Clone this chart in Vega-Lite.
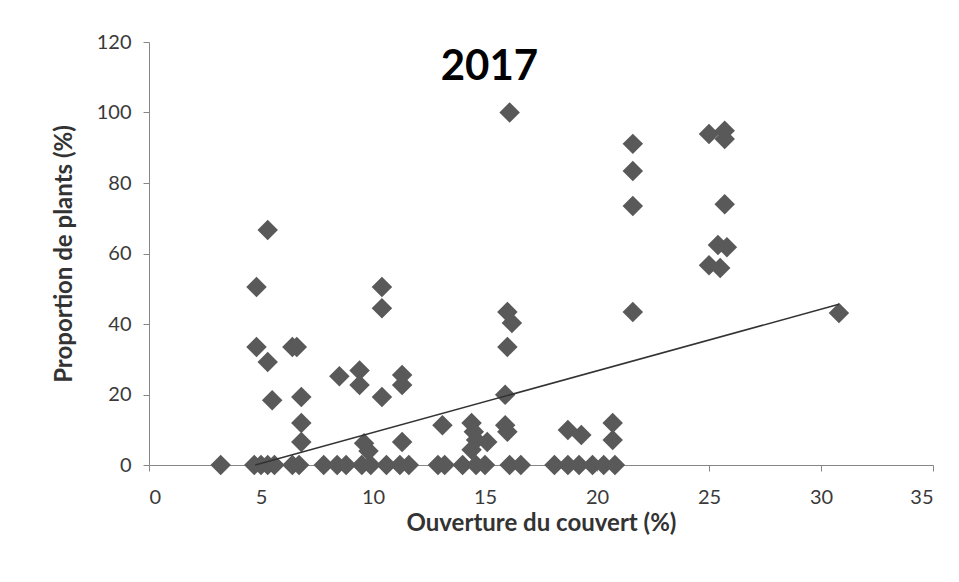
{
  "$schema": "https://vega.github.io/schema/vega-lite/v6.json",
  "width": 784,
  "height": 423,
  "autosize": {"type": "none"},
  "padding": {"left": 149, "top": 42, "right": 26, "bottom": 117},
  "background": "white",
  "config": {
    "view": {"stroke": null},
    "axis": {
      "grid": false,
      "domainColor": "#868686",
      "tickColor": "#868686",
      "tickSize": 6,
      "labelFont": "Lato",
      "labelFontSize": 20,
      "labelColor": "#3a3a3a",
      "titleFont": "Lato",
      "titleFontSize": 24,
      "titleFontWeight": "bold",
      "titleColor": "#333333"
    }
  },
  "datasets": {
    "plots": [
      {"ouverture": 3.2, "proportion": 0},
      {"ouverture": 4.7, "proportion": 0},
      {"ouverture": 5.0, "proportion": 0},
      {"ouverture": 5.3, "proportion": 0},
      {"ouverture": 5.6, "proportion": 0},
      {"ouverture": 6.4, "proportion": 0},
      {"ouverture": 6.7, "proportion": 0},
      {"ouverture": 7.8, "proportion": 0},
      {"ouverture": 8.4, "proportion": 0},
      {"ouverture": 8.8, "proportion": 0},
      {"ouverture": 9.5, "proportion": 0},
      {"ouverture": 9.9, "proportion": 0},
      {"ouverture": 10.6, "proportion": 0},
      {"ouverture": 11.2, "proportion": 0},
      {"ouverture": 11.6, "proportion": 0},
      {"ouverture": 12.9, "proportion": 0},
      {"ouverture": 13.2, "proportion": 0},
      {"ouverture": 14.0, "proportion": 0},
      {"ouverture": 14.6, "proportion": 0},
      {"ouverture": 15.0, "proportion": 0},
      {"ouverture": 16.1, "proportion": 0},
      {"ouverture": 16.6, "proportion": 0},
      {"ouverture": 18.1, "proportion": 0},
      {"ouverture": 18.7, "proportion": 0},
      {"ouverture": 19.2, "proportion": 0},
      {"ouverture": 19.8, "proportion": 0},
      {"ouverture": 20.3, "proportion": 0},
      {"ouverture": 20.8, "proportion": 0},
      {"ouverture": 4.8, "proportion": 50.5},
      {"ouverture": 4.8, "proportion": 33.5},
      {"ouverture": 5.3, "proportion": 66.7},
      {"ouverture": 5.3, "proportion": 29.2},
      {"ouverture": 5.5, "proportion": 18.4},
      {"ouverture": 6.4, "proportion": 33.5},
      {"ouverture": 6.6, "proportion": 33.5},
      {"ouverture": 6.8, "proportion": 19.3},
      {"ouverture": 6.8, "proportion": 11.9},
      {"ouverture": 6.8, "proportion": 6.5},
      {"ouverture": 8.5, "proportion": 25.2},
      {"ouverture": 9.4, "proportion": 26.8},
      {"ouverture": 9.4, "proportion": 22.7},
      {"ouverture": 9.6, "proportion": 6.2},
      {"ouverture": 9.8, "proportion": 4.0},
      {"ouverture": 10.4, "proportion": 50.5},
      {"ouverture": 10.4, "proportion": 44.5},
      {"ouverture": 10.4, "proportion": 19.3},
      {"ouverture": 11.3, "proportion": 25.5},
      {"ouverture": 11.3, "proportion": 22.7},
      {"ouverture": 11.3, "proportion": 6.5},
      {"ouverture": 13.1, "proportion": 11.3},
      {"ouverture": 14.4, "proportion": 11.9},
      {"ouverture": 14.5, "proportion": 9.4},
      {"ouverture": 14.6, "proportion": 7.1},
      {"ouverture": 14.4, "proportion": 4.3},
      {"ouverture": 15.1, "proportion": 6.5},
      {"ouverture": 16.1, "proportion": 100},
      {"ouverture": 16.0, "proportion": 43.4},
      {"ouverture": 16.2, "proportion": 40.3},
      {"ouverture": 16.0, "proportion": 33.5},
      {"ouverture": 15.9, "proportion": 19.9},
      {"ouverture": 15.9, "proportion": 11.3},
      {"ouverture": 16.0, "proportion": 9.4},
      {"ouverture": 18.7, "proportion": 9.9},
      {"ouverture": 19.3, "proportion": 8.5},
      {"ouverture": 20.7, "proportion": 11.9},
      {"ouverture": 20.7, "proportion": 7.1},
      {"ouverture": 21.6, "proportion": 91.1},
      {"ouverture": 21.6, "proportion": 83.4},
      {"ouverture": 21.6, "proportion": 73.5},
      {"ouverture": 21.6, "proportion": 43.4},
      {"ouverture": 25.0, "proportion": 93.9},
      {"ouverture": 25.7, "proportion": 94.8},
      {"ouverture": 25.7, "proportion": 92.5},
      {"ouverture": 25.7, "proportion": 74.0},
      {"ouverture": 25.4, "proportion": 62.4},
      {"ouverture": 25.8, "proportion": 61.8},
      {"ouverture": 25.0, "proportion": 56.7},
      {"ouverture": 25.5, "proportion": 55.9},
      {"ouverture": 30.8, "proportion": 43.1}
    ],
    "tendance": [
      {"ouverture": 4.74, "proportion": 0},
      {"ouverture": 30.8, "proportion": 45.6}
    ],
    "titre": [
      {"annee": "2017"}
    ]
  },
  "layer": [
    {
      "data": {"name": "plots"},
      "mark": {"type": "point", "shape": "diamond", "filled": true, "size": 420, "color": "#595959", "opacity": 1},
      "encoding": {
        "x": {
          "field": "ouverture",
          "type": "quantitative",
          "scale": {"domain": [0, 35], "nice": false, "zero": false},
          "axis": {
            "title": "Ouverture du couvert (%)",
            "values": [0, 5, 10, 15, 20, 25, 30, 35],
            "labelPadding": 16,
            "titlePadding": 4
          }
        },
        "y": {
          "field": "proportion",
          "type": "quantitative",
          "scale": {"domain": [0, 120], "nice": false},
          "axis": {
            "title": "Proportion de plants (%)",
            "values": [0, 20, 40, 60, 80, 100, 120],
            "labelPadding": 12,
            "titlePadding": 20
          }
        }
      }
    },
    {
      "data": {"name": "tendance"},
      "mark": {"type": "line", "color": "#333333", "strokeWidth": 1.5},
      "encoding": {
        "x": {"field": "ouverture", "type": "quantitative"},
        "y": {"field": "proportion", "type": "quantitative"}
      }
    },
    {
      "data": {"name": "titre"},
      "mark": {"type": "text", "font": "Lato", "fontSize": 42, "fontWeight": "bold", "color": "#000000", "align": "center", "baseline": "alphabetic"},
      "encoding": {
        "text": {"field": "annee", "type": "nominal"},
        "x": {"datum": 15.2, "type": "quantitative"},
        "y": {"datum": 109.2, "type": "quantitative"}
      }
    }
  ]
}
